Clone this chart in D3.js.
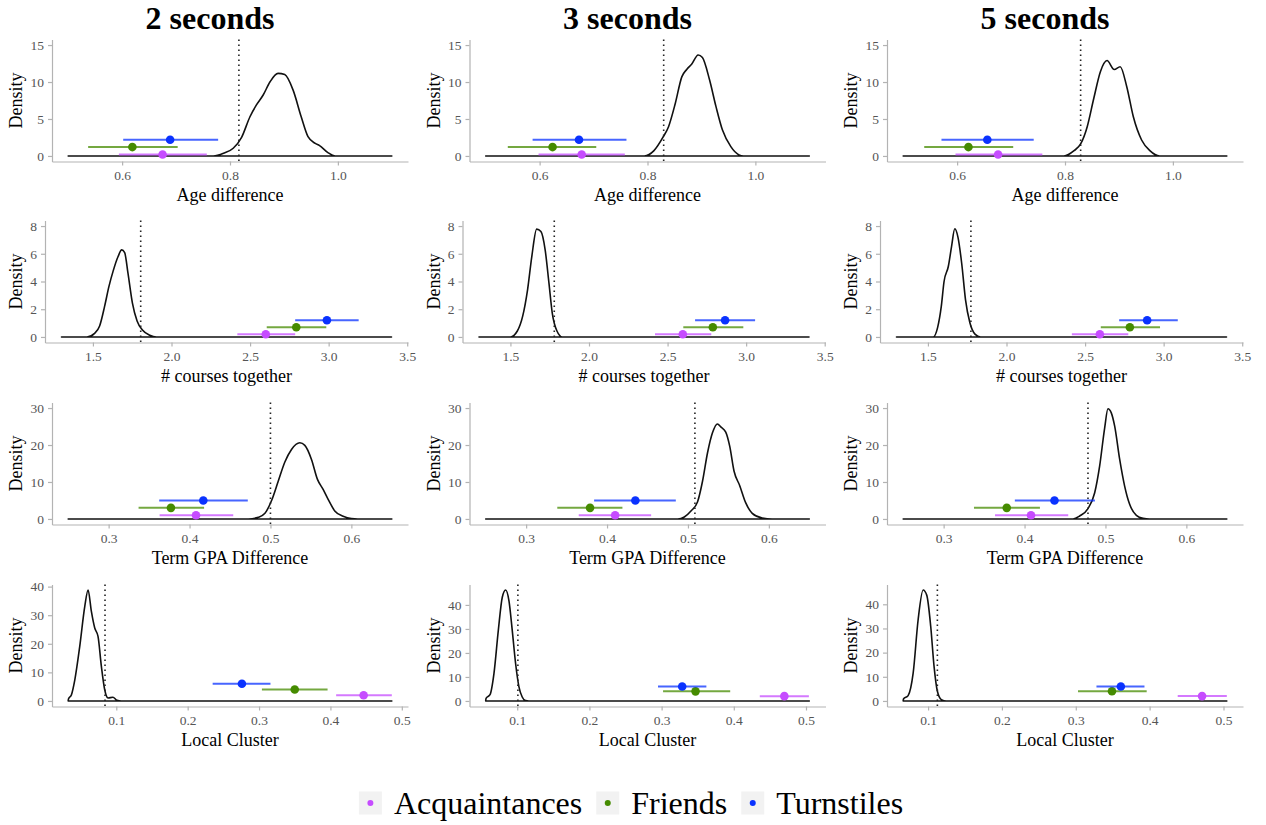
<!DOCTYPE html>
<html>
<head>
<meta charset="utf-8">
<script src="https://cdn.jsdelivr.net/npm/d3@7"></script>
<style>
body { margin: 0; background: #fff; }
text { font-family: "Liberation Serif", "Times New Roman", serif; }
</style>
</head>
<body>
<div id="chart"></div>
<script>
const W = 1266, H = 825;

const columns = ["2 seconds", "3 seconds", "5 seconds"];
const variables = ["Age difference", "# courses together", "Term GPA Difference", "Local Cluster"];
const groups = ["Acquaintances", "Friends", "Turnstiles"];
const groupColors = ["#c64cff", "#458b00", "#0a32ff"];

// data range of each panel (rows = variables, cols = seconds)
const xRanges = [
    [[0.5, 1.1], [0.5, 1.1], [0.5, 1.1]],
    [[1.3, 3.4], [1.3, 3.4], [1.3, 3.4]],
    [[0.25, 0.65], [0.25, 0.65], [0.25, 0.65]],
    [[0.0326, 0.486], [0.0563, 0.5046], [0.0663, 0.5045]]
];
const yMax = [[15, 15, 15], [8, 8, 8], [30, 30, 30], [38.8, 46.2, 45.9]];
const xTickVals = [[0.6, 0.8, 1.0], [1.5, 2.0, 2.5, 3.0, 3.5], [0.3, 0.4, 0.5, 0.6], [0.1, 0.2, 0.3, 0.4, 0.5]];
const yTickVals = [[0, 5, 10, 15], [0, 2, 4, 6, 8], [0, 10, 20, 30], [0, 10, 20, 30, 40]];

// observed value (dotted line)
const observed = [
    [0.8165, 0.830, 0.829],
    [1.804, 1.779, 1.7735],
    [0.500, 0.5086, 0.4784],
    [0.0842, 0.1009, 0.1126]
];

// height at which the interval of each group is drawn
const ciHeights = [[0.2, 1.2, 2.2], [0.2, 0.7, 1.2], [1, 3, 5], [2, 4, 6]];

// [low, estimate, high] per column, per group (Acquaintances, Friends, Turnstiles)
const ciAge = [
    [[0.594, 0.675, 0.757], [0.537, 0.619, 0.703], [0.602, 0.689, 0.778]],
    [[0.598, 0.678, 0.758], [0.541, 0.624, 0.705], [0.587, 0.673, 0.761]],
    [[0.597, 0.676, 0.758], [0.539, 0.621, 0.704], [0.571, 0.656, 0.742]]
];
const ciCourses = [
    [[2.419, 2.600, 2.787], [2.606, 2.794, 2.985], [2.787, 2.989, 3.191]],
    [[2.420, 2.597, 2.778], [2.600, 2.788, 2.982], [2.675, 2.866, 3.057]],
    [[2.416, 2.594, 2.775], [2.600, 2.785, 2.977], [2.717, 2.895, 3.090]]
];
const ciGpa = [
    [[0.363, 0.408, 0.454], [0.337, 0.377, 0.418], [0.3625, 0.417, 0.472]],
    [[0.365, 0.410, 0.4545], [0.3385, 0.379, 0.419], [0.384, 0.435, 0.485]],
    [[0.3635, 0.408, 0.454], [0.3375, 0.378, 0.419], [0.388, 0.437, 0.487]]
];
const ciCluster = [
    [[0.408, 0.4465, 0.486], [0.304, 0.350, 0.396], [0.235, 0.276, 0.316]],
    [[0.436, 0.470, 0.504], [0.302, 0.347, 0.395], [0.295, 0.3285, 0.362]],
    [[0.438, 0.471, 0.5045], [0.303, 0.349, 0.396], [0.328, 0.361, 0.393]]
];

// permutation densities: [x, density]
const densAge = [
    [[0.769, 0], [0.788, 0.36], [0.806, 1.04], [0.8215, 2.52], [0.837, 5.3], [0.849, 6.9], [0.8615, 8.24],
     [0.874, 10.0], [0.889, 11.17], [0.9015, 11.0], [0.917, 8.9], [0.932, 5.3], [0.9446, 2.6], [0.958, 1.7],
     [0.966, 1.4], [0.9815, 0.45], [0.995, 0]],
    [[0.794, 0], [0.812, 0.72], [0.8285, 2.5], [0.839, 3.96], [0.8515, 7.1], [0.8636, 10.7], [0.8727, 11.7],
     [0.8818, 12.4], [0.8939, 13.65], [0.9018, 13.3], [0.915, 10.3], [0.927, 6.67], [0.939, 3.5],
     [0.9545, 1.26], [0.9697, 0.14], [0.978, 0]],
    [[0.798, 0], [0.8168, 0.72], [0.829, 1.62], [0.8412, 3.96], [0.8534, 7.8], [0.8656, 11.4], [0.8779, 12.9],
     [0.8913, 11.7], [0.9023, 12.07], [0.9145, 9.37], [0.9267, 5.3], [0.942, 2.16], [0.9573, 0.72],
     [0.9756, 0]]
];
const densCourses = [
    [[1.462, 0], [1.5106, 0.26], [1.5426, 0.79], [1.5745, 2.22], [1.602, 3.65], [1.628, 4.73], [1.66, 5.8],
     [1.683, 6.28], [1.702, 6.08], [1.723, 4.6], [1.751, 2.46], [1.781, 1.15], [1.815, 0.5], [1.862, 0.12],
     [1.904, 0]],
    [[1.50, 0], [1.544, 0.43], [1.578, 1.5], [1.609, 3.4], [1.636, 5.8], [1.667, 7.78], [1.694, 7.6],
     [1.721, 6.28], [1.745, 3.9], [1.766, 1.74], [1.796, 0.43], [1.83, 0]],
    [[1.534, 0], [1.5615, 0.67], [1.585, 2.2], [1.6026, 4.0], [1.63, 5.1], [1.650, 6.5], [1.671, 7.8],
     [1.691, 7.2], [1.715, 5.3], [1.739, 2.7], [1.767, 1.03], [1.801, 0.19], [1.835, 0]]
];
const densGpa = [
    [[0.4726, 0], [0.485, 0.45], [0.4932, 1.53], [0.5014, 5.0], [0.5096, 10.2], [0.5178, 15.4], [0.526, 18.8],
     [0.5363, 20.6], [0.5425, 19.9], [0.5507, 16.1], [0.5581, 10.7], [0.5651, 8.0], [0.5713, 5.3],
     [0.5795, 2.16], [0.5898, 0.72], [0.60, 0.09], [0.608, 0]],
    [[0.4873, 0], [0.4955, 0.54], [0.5037, 2.16], [0.5119, 4.67], [0.518, 10.2], [0.5242, 17.9], [0.5303, 23.3],
     [0.5365, 25.7], [0.5406, 24.9], [0.5467, 23.5], [0.5516, 19.7], [0.557, 12.9], [0.5639, 9.07],
     [0.5713, 4.4], [0.5795, 1.53], [0.5918, 0.27], [0.604, 0]],
    [[0.4599, 0], [0.4681, 0.81], [0.4784, 2.8], [0.4867, 7.1], [0.4928, 14.3], [0.499, 24.6], [0.5031, 29.8],
     [0.5072, 28.7], [0.5114, 25.1], [0.5176, 16.1], [0.5237, 8.9], [0.5299, 3.95], [0.5382, 0.99],
     [0.5464, 0.18], [0.5546, 0]]
];
const densCluster = [
    [[0.0326, 0], [0.033, 0.7], [0.0372, 2.2], [0.0419, 7.4], [0.0488, 19.1], [0.0558, 33], [0.0605, 38.8],
     [0.0651, 31.3], [0.0698, 25.5], [0.0744, 22.6], [0.0791, 12.1], [0.0837, 4], [0.0884, 1.05],
     [0.0953, 1.28], [0.1009, 0.23], [0.107, 0]],
    [[0.0563, 0], [0.0568, 1.1], [0.0623, 2.6], [0.0678, 11.5], [0.0738, 29.4], [0.0793, 43.2], [0.0839, 46.2],
     [0.0885, 41.8], [0.0931, 29.4], [0.0977, 15.7], [0.1023, 6], [0.1069, 1.65], [0.1115, 0.14], [0.1161, 0]],
    [[0.0663, 0], [0.0667, 0.8], [0.073, 2.2], [0.0798, 11.5], [0.0865, 33.5], [0.0933, 45.9], [0.0982, 43.8],
     [0.1036, 30.8], [0.1081, 14.3], [0.1126, 4], [0.118, 0.55], [0.1247, 0]]
];

const densities = [densAge, densCourses, densGpa, densCluster];
const cis = [ciAge, ciCourses, ciGpa, ciCluster];

// layout
const colStep = 417.5;
const rowLeft = [52, 45, 52, 52];
const rowTop = [39.5, 220.5, 402.5, 584.5];
const panelH = 122;
const panelRight = 408;

const axisColor = "#b3b3b3";
const tickText = "#555";

const svg = d3.select("#chart").append("svg")
    .attr("width", W)
    .attr("height", H)
    .style("background", "#fff");

// column titles
columns.forEach((t, c) => {
    svg.append("text")
        .attr("x", 210 + c * colStep)
        .attr("y", 29)
        .attr("text-anchor", "middle")
        .attr("font-size", "32px")
        .attr("font-weight", "bold")
        .text(t);
});

function expand(lo, hi) {
    const e = (hi - lo) * 0.05;
    return [lo - e, hi + e];
}

for (let r = 0; r < variables.length; r++) {
    for (let c = 0; c < columns.length; c++) {
        const left = rowLeft[r] + c * colStep;
        const right = panelRight + c * colStep;
        const top = rowTop[r];
        const bottom = top + panelH;

        const x = d3.scaleLinear().domain(expand(xRanges[r][c][0], xRanges[r][c][1])).range([left, right]);
        const y = d3.scaleLinear().domain(expand(0, yMax[r][c])).range([bottom, top]);

        const g = svg.append("g");

        // axes
        const xAxis = g.append("g")
            .attr("transform", "translate(0," + bottom + ")")
            .call(d3.axisBottom(x).tickValues(xTickVals[r]).tickFormat(d3.format(".1f"))
                .tickSize(4).tickSizeOuter(0).tickPadding(5));
        const yAxis = g.append("g")
            .attr("transform", "translate(" + left + ",0)")
            .call(d3.axisLeft(y).tickValues(yTickVals[r]).tickFormat(d3.format("d"))
                .tickSize(4).tickSizeOuter(0).tickPadding(4));

        [xAxis, yAxis].forEach(a => {
            a.attr("font-family", null).attr("font-size", null);
            a.select(".domain").attr("stroke", axisColor).attr("stroke-width", 1.2);
            a.selectAll(".tick line").attr("stroke", axisColor).attr("stroke-width", 1.2);
            a.selectAll(".tick text")
                .attr("fill", tickText)
                .style("font-size", "13.5px");
        });

        // axis titles
        g.append("text")
            .attr("x", (left + right) / 2)
            .attr("y", bottom + 39)
            .attr("text-anchor", "middle")
            .attr("font-size", "18px")
            .text(variables[r]);

        g.append("text")
            .attr("transform", "translate(" + (22 + c * colStep) + "," + ((top + bottom) / 2) + ") rotate(-90)")
            .attr("text-anchor", "middle")
            .attr("font-size", "18px")
            .text("Density");

        // density curve, with flat tails over the whole data range
        const pts = [[xRanges[r][c][0], 0]]
            .concat(densities[r][c])
            .concat([[xRanges[r][c][1], 0]]);
        const line = d3.line()
            .x(d => x(d[0]))
            .y(d => y(d[1]))
            .curve(d3.curveMonotoneX);

        g.append("path")
            .attr("d", line(pts) + "Z")
            .attr("fill", "none")
            .attr("stroke", "#111")
            .attr("stroke-width", 1.6)
            .attr("stroke-linejoin", "round");

        // observed value
        g.append("line")
            .attr("x1", x(observed[r][c]))
            .attr("x2", x(observed[r][c]))
            .attr("y1", top)
            .attr("y2", bottom)
            .attr("stroke", "#222")
            .attr("stroke-width", 1.6)
            .attr("stroke-dasharray", "1.6,3.4");

        // intervals
        groups.forEach((grp, k) => {
            const v = cis[r][c][k];
            const yy = y(ciHeights[r][k]);
            g.append("line")
                .attr("x1", x(v[0]))
                .attr("x2", x(v[2]))
                .attr("y1", yy)
                .attr("y2", yy)
                .attr("stroke", groupColors[k])
                .attr("stroke-opacity", 0.75)
                .attr("stroke-width", 2);
            g.append("circle")
                .attr("cx", x(v[1]))
                .attr("cy", yy)
                .attr("r", 4.3)
                .attr("fill", groupColors[k]);
        });
    }
}

// legend
const legend = svg.append("g");
const keySize = 23;
let lx = 0;
groups.forEach((grp, k) => {
    const item = legend.append("g").attr("transform", "translate(" + lx + ",0)");
    item.append("rect")
        .attr("x", 0)
        .attr("y", -keySize / 2)
        .attr("width", keySize)
        .attr("height", keySize)
        .attr("fill", "#f2f2f2");
    item.append("circle")
        .attr("cx", keySize / 2)
        .attr("cy", 0)
        .attr("r", 3)
        .attr("fill", groupColors[k]);
    const t = item.append("text")
        .attr("x", keySize + 12)
        .attr("y", 11)
        .attr("font-size", "32px")
        .text(grp);
    lx += keySize + 12 + t.node().getComputedTextLength() + 14;
});
const legendW = lx - 14;
legend.attr("transform", "translate(" + (631 - legendW / 2) + ",803)");
</script>
</body>
</html>
